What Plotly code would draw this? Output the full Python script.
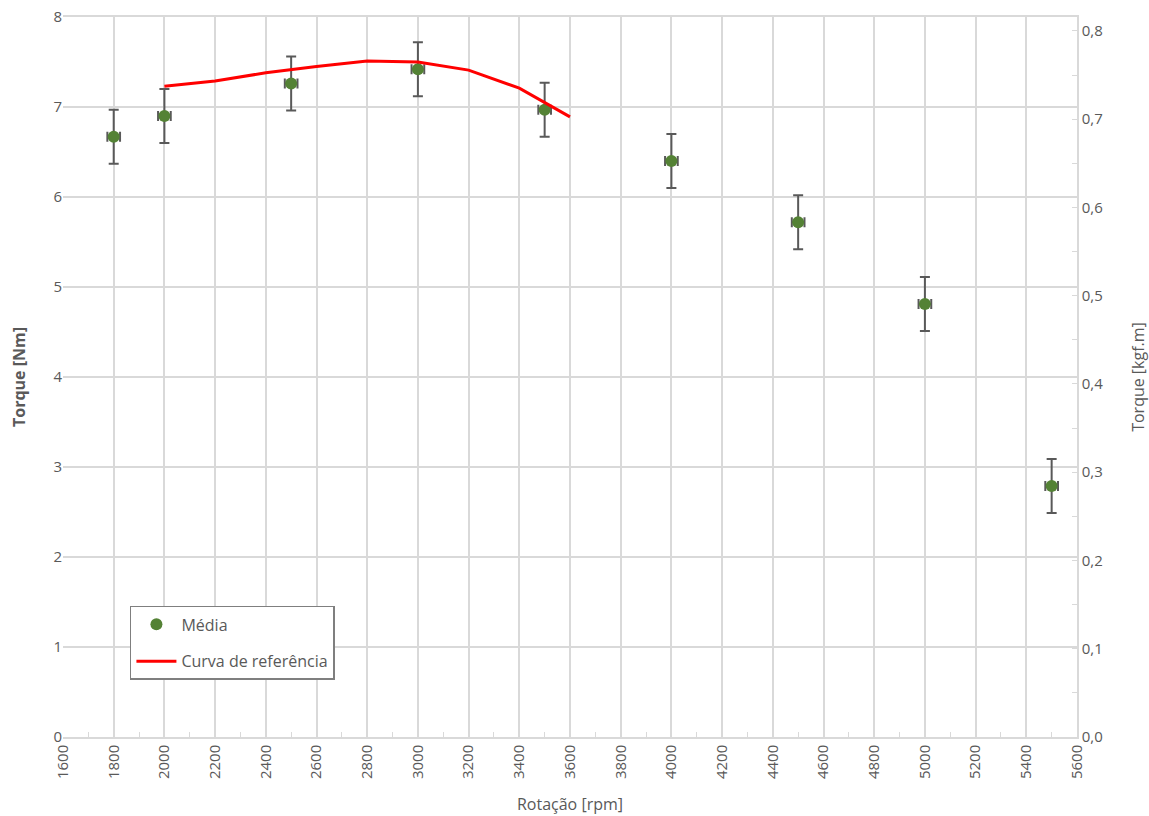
import plotly.graph_objects as go

# Data
rpm = [1800, 2000, 2500, 3000, 3500, 4000, 4500, 5000, 5500]
torque_mean = [6.67, 6.90, 7.26, 7.42, 6.97, 6.40, 5.72, 4.81, 2.79]
torque_err = [0.30, 0.30, 0.30, 0.30, 0.30, 0.30, 0.30, 0.30, 0.30]
rpm_err = [25, 25, 25, 25, 25, 25, 25, 25, 25]

ref_rpm = [2000, 2200, 2400, 2600, 2800, 3000, 3200, 3400, 3600]
ref_torque = [7.23, 7.29, 7.38, 7.45, 7.51, 7.50, 7.41, 7.21, 6.89]

G = 9.80665
GRID = "#d9d9d9"
TXT = "#595959"
FONT = "Open Sans"

fig = go.Figure()

fig.add_trace(go.Scatter(
    x=rpm, y=torque_mean, mode="markers", name="Média",
    legendgroup="a",
    marker=dict(color="#548235", size=12),
    error_y=dict(type="data", array=torque_err, visible=True,
                 color="#595959", thickness=2, width=5),
    error_x=dict(type="data", array=rpm_err, visible=True,
                 color="#595959", thickness=2, width=5),
))

fig.add_trace(go.Scatter(
    x=ref_rpm, y=ref_torque, mode="lines", name="Curva de referência",
    legendgroup="b",
    line=dict(color="#ff0000", width=3),
))

# secondary axis carrier (invisible)
fig.add_trace(go.Scatter(
    x=rpm, y=[v / G for v in torque_mean], yaxis="y2", mode="markers",
    marker=dict(opacity=0), showlegend=False, hoverinfo="skip",
))

fig.update_layout(
    width=1149, height=816,
    margin=dict(l=63, r=72, t=17, b=79, autoexpand=False),
    paper_bgcolor="white", plot_bgcolor="white",
    separators=",.",
    font=dict(family=FONT, size=15, color=TXT),
    showlegend=True,
    legend=dict(
        x=0.066, y=0.182, xanchor="left", yanchor="top",
        bgcolor="white", bordercolor="#7f7f7f", borderwidth=1.5,
        font=dict(family=FONT, size=16, color=TXT),
        tracegroupgap=13, traceorder="grouped",
        itemwidth=40,
    ),
    xaxis=dict(
        range=[1600, 5600], dtick=200, tick0=1600,
        tickangle=-90, tickformat="d", automargin=False,
        showgrid=True, gridcolor=GRID, gridwidth=1.5,
        showline=True, linecolor=GRID, linewidth=1.5, mirror=True,
        ticks="", zeroline=False,
        minor=dict(dtick=100, tick0=1600, ticks="inside", ticklen=5,
                   tickcolor=GRID, showgrid=False),
        title=dict(text="Rotação [rpm]", font=dict(size=16, color=TXT), standoff=21),
        tickfont=dict(size=15, color=TXT),
    ),
    yaxis=dict(
        range=[0, 8], dtick=1, automargin=False,
        ticklabeloverflow="allow",
        showgrid=True, gridcolor=GRID, gridwidth=1.5,
        showline=False, zeroline=False, ticks="",
        title=dict(text="<b>Torque [Nm]</b>", font=dict(size=16, color=TXT), standoff=23),
        tickfont=dict(size=15, color=TXT),
    ),
    yaxis2=dict(
        overlaying="y", side="right", automargin=False,
        ticklabeloverflow="allow",
        range=[0, 8 / G], dtick=0.1, tick0=0, tickformat=".1f",
        showgrid=False, zeroline=False,
        showline=True, linecolor=GRID, linewidth=1.5,
        ticks="inside", ticklen=5, tickcolor=GRID,
        minor=dict(dtick=0.05, tick0=0, ticks="inside", ticklen=5, tickcolor=GRID),
        title=dict(text="Torque [kgf.m]", font=dict(size=16, color=TXT), standoff=33),
        tickfont=dict(size=15, color=TXT),
    ),
)

fig.write_html("out.html", config={"displayModeBar": False},
               post_script="document.body.style.margin='0';")
